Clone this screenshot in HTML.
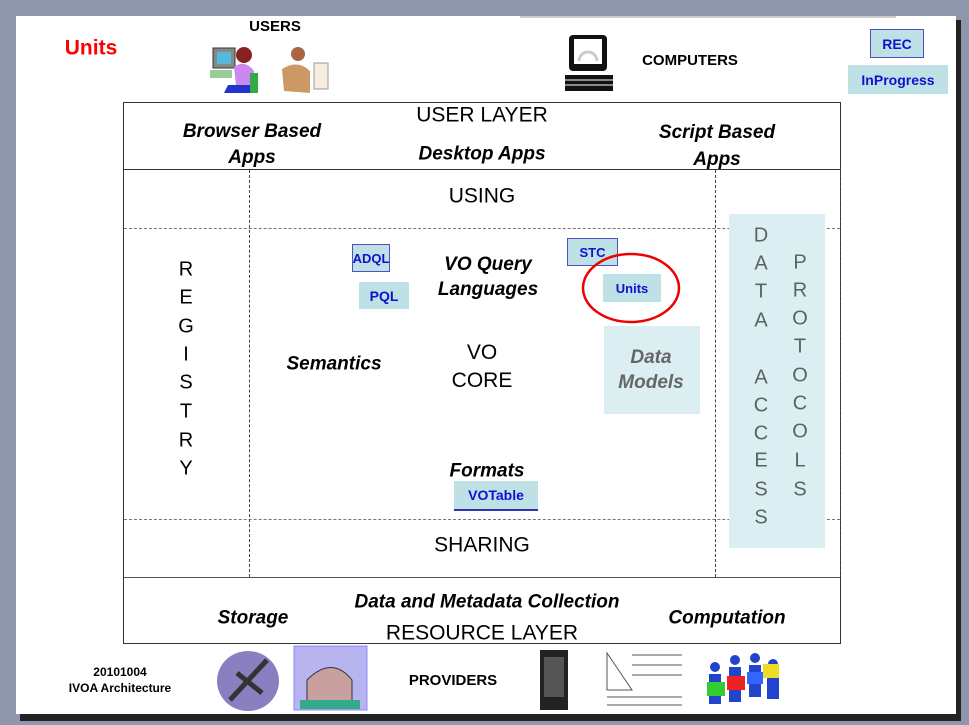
<!DOCTYPE html>
<html><head><meta charset="utf-8"><style>
*{margin:0;padding:0;box-sizing:border-box}
body{width:969px;height:725px;background:#8e97ab;position:relative;overflow:hidden;font-family:"Liberation Sans",sans-serif}
.a{position:absolute}
.t{position:absolute;transform:translate(-50%,-50%);white-space:nowrap;text-align:center;line-height:1.2}
.bi{font-weight:bold;font-style:italic;font-size:19px;color:#000}
.big{font-size:21px;color:#000}
.box{position:absolute;background:#bde1e5;color:#1010d0;font-weight:bold;font-size:14px;display:flex;align-items:center;justify-content:center}
.hd{position:absolute;border-top:1px dashed #777;height:0}
.vd{position:absolute;border-left:1px dashed #444;width:0}
.L{position:absolute;transform:translate(-50%,-50%);font-size:20px;color:#000}
.G{position:absolute;transform:translate(-50%,-50%);font-size:20px;color:#5a6468}
</style></head><body>
<div class="a" style="left:20px;top:20px;width:941px;height:701px;background:#222"></div>
<div class="a" style="left:16px;top:16px;width:940px;height:698px;background:#fff"></div>
<div class="a" style="left:520px;top:16px;width:376px;height:2px;background:#ccc"></div>

<div class="t" style="left:91px;top:48px;color:#f00;font-size:21px;font-weight:bold">Units</div>
<div class="t" style="left:275px;top:27px;font-weight:bold;font-size:15px">USERS</div>
<div class="t" style="left:690px;top:61px;font-weight:bold;font-size:15px">COMPUTERS</div>
<div class="box" style="left:870px;top:29px;width:54px;height:29px;border:1px solid #5050c0">REC</div>
<div class="box" style="left:848px;top:65px;width:100px;height:29px">InProgress</div>

<svg class="a" style="left:210px;top:45px" width="125" height="50">
<rect x="3" y="3" width="22" height="20" fill="#888" stroke="#333"/><rect x="7" y="7" width="14" height="12" fill="#5bd"/>
<rect x="0" y="25" width="22" height="8" fill="#9c9"/>
<circle cx="34" cy="10" r="8" fill="#822"/><path d="M24 22 Q35 14 44 26 L44 40 L26 40Z" fill="#c8e"/>
<path d="M18 40 L44 40 L44 48 L14 48Z" fill="#23c"/><rect x="40" y="28" width="8" height="20" fill="#3a4"/>
<circle cx="88" cy="9" r="7" fill="#a64"/><path d="M72 24 Q88 14 100 26 L100 48 L74 46Z" fill="#c96"/>
<rect x="104" y="18" width="14" height="26" fill="#f5eee0" stroke="#999"/>
</svg>
<svg class="a" style="left:565px;top:33px" width="50" height="60">
<rect x="4" y="2" width="38" height="36" rx="4" fill="#111"/><rect x="9" y="6" width="28" height="25" fill="#fff"/>
<path d="M14 28 A9 9 0 0 1 32 28" stroke="#ccc" stroke-width="3" fill="none"/>
<rect x="0" y="42" width="48" height="16" fill="#111"/>
<g stroke="#fff" stroke-width="1"><line x1="0" y1="47" x2="48" y2="47"/><line x1="0" y1="52" x2="48" y2="52"/></g>
</svg>

<div class="a" style="left:123px;top:102px;width:718px;height:542px;border:1px solid #333"></div>
<div class="a" style="left:123px;top:169px;width:718px;height:0;border-top:1px solid #333"></div>
<div class="hd" style="left:124px;top:228px;width:716px"></div>
<div class="hd" style="left:124px;top:519px;width:716px"></div>
<div class="hd" style="left:124px;top:577px;width:716px;border-top:1px solid #555"></div>
<div class="vd" style="left:249px;top:170px;height:407px"></div>
<div class="vd" style="left:715px;top:170px;height:407px"></div>
<div class="vd" style="left:840px;top:170px;height:407px"></div>

<div class="a" style="left:729px;top:214px;width:96px;height:334px;background:#dbeef1"></div>
<div class="a" style="left:604px;top:326px;width:96px;height:88px;background:#dbeef1"></div>

<div class="t big" style="left:482px;top:115px">USER LAYER</div>
<div class="t bi" style="left:252px;top:145px;line-height:26px">Browser Based<br>Apps</div>
<div class="t bi" style="left:482px;top:155px">Desktop Apps</div>
<div class="t bi" style="left:717px;top:146px;line-height:27px">Script Based<br>Apps</div>
<div class="t big" style="left:482px;top:196px">USING</div>

<div class="L" style="left:186px;top:270px">R</div><div class="L" style="left:186px;top:298px">E</div>
<div class="L" style="left:186px;top:327px">G</div><div class="L" style="left:186px;top:355px">I</div>
<div class="L" style="left:186px;top:383px">S</div><div class="L" style="left:186px;top:412px">T</div>
<div class="L" style="left:186px;top:441px">R</div><div class="L" style="left:186px;top:469px">Y</div>

<div class="G" style="left:761px;top:236px">D</div><div class="G" style="left:761px;top:264px">A</div>
<div class="G" style="left:761px;top:292px">T</div><div class="G" style="left:761px;top:321px">A</div>
<div class="G" style="left:761px;top:378px">A</div><div class="G" style="left:761px;top:406px">C</div>
<div class="G" style="left:761px;top:434px">C</div><div class="G" style="left:761px;top:461px">E</div>
<div class="G" style="left:761px;top:490px">S</div><div class="G" style="left:761px;top:518px">S</div>
<div class="G" style="left:800px;top:263px">P</div><div class="G" style="left:800px;top:291px">R</div>
<div class="G" style="left:800px;top:319px">O</div><div class="G" style="left:800px;top:347px">T</div>
<div class="G" style="left:800px;top:376px">O</div><div class="G" style="left:800px;top:404px">C</div>
<div class="G" style="left:800px;top:432px">O</div><div class="G" style="left:800px;top:461px">L</div>
<div class="G" style="left:800px;top:490px">S</div>

<div class="box" style="left:352px;top:244px;width:38px;height:28px;border:1px solid #5050c0;font-size:13px;padding:0">ADQL</div>
<div class="box" style="left:359px;top:282px;width:50px;height:27px">PQL</div>
<div class="box" style="left:567px;top:238px;width:51px;height:28px;border:1px solid #5050c0;font-size:13px">STC</div>
<div class="box" style="left:603px;top:274px;width:58px;height:28px;font-size:13px">Units</div>
<svg class="a" style="left:575px;top:248px" width="110" height="80"><ellipse cx="56" cy="40" rx="48" ry="34" fill="none" stroke="#e00" stroke-width="2.5"/></svg>

<div class="t bi" style="left:488px;top:277px;line-height:25px">VO Query<br>Languages</div>
<div class="t bi" style="left:334px;top:365px">Semantics</div>
<div class="t big" style="left:482px;top:367px;line-height:28px">VO<br>CORE</div>
<div class="t bi" style="left:651px;top:370px;color:#666;line-height:25px">Data<br>Models</div>
<div class="t bi" style="left:487px;top:472px">Formats</div>
<div class="box" style="left:454px;top:481px;width:84px;height:30px;border-bottom:2px solid #3030b0">VOTable</div>
<div class="t big" style="left:482px;top:545px">SHARING</div>

<div class="t bi" style="left:253px;top:619px">Storage</div>
<div class="t bi" style="left:487px;top:603px">Data and Metadata Collection</div>
<div class="t bi" style="left:727px;top:619px">Computation</div>
<div class="t big" style="left:482px;top:633px">RESOURCE LAYER</div>

<div class="t" style="left:120px;top:680px;font-size:12px;font-weight:bold;line-height:16px">20101004<br>IVOA Architecture</div>
<div class="t" style="left:453px;top:681px;font-weight:bold;font-size:15px">PROVIDERS</div>

<svg class="a" style="left:212px;top:645px" width="500" height="70">
<ellipse cx="36" cy="36" rx="31" ry="30" fill="#8a7fc0"/>
<path d="M18 55 L55 15 M25 28 L50 48" stroke="#333" stroke-width="5"/>
<rect x="82" y="1" width="73" height="64" fill="#b8b4f0" stroke="#88f"/>
<path d="M95 60 L95 35 Q120 10 140 35 L140 60Z" fill="#c9a0a0" stroke="#333"/>
<rect x="88" y="55" width="60" height="9" fill="#3a8"/>
<rect x="328" y="5" width="28" height="60" fill="#222"/><rect x="332" y="12" width="20" height="40" fill="#555"/>
<g stroke="#555" stroke-width="1"><path d="M395 8 L395 45 L420 45Z" fill="none"/>
<line x1="420" y1="10" x2="470" y2="10"/><line x1="420" y1="20" x2="470" y2="20"/><line x1="420" y1="30" x2="470" y2="30"/>
<line x1="395" y1="52" x2="470" y2="52"/><line x1="395" y1="60" x2="470" y2="60"/></g>
</svg>
<svg class="a" style="left:705px;top:652px" width="80" height="60">
<circle cx="10" cy="15" r="5" fill="#24c"/><circle cx="30" cy="8" r="5" fill="#24c"/><circle cx="50" cy="6" r="5" fill="#24c"/><circle cx="68" cy="12" r="5" fill="#24c"/>
<rect x="4" y="22" width="12" height="30" fill="#24c"/><rect x="24" y="15" width="12" height="35" fill="#24c"/><rect x="44" y="13" width="12" height="32" fill="#24c"/><rect x="62" y="19" width="12" height="28" fill="#24c"/>
<rect x="2" y="30" width="18" height="14" fill="#3c3"/><rect x="22" y="24" width="18" height="14" fill="#e22"/><rect x="42" y="20" width="16" height="12" fill="#36f"/><rect x="58" y="12" width="16" height="14" fill="#ed2"/>
</svg>
</body></html>
